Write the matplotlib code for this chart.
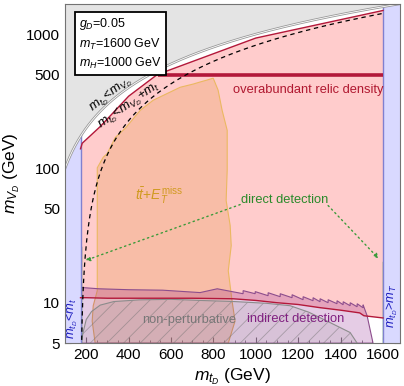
import matplotlib
matplotlib.use("Agg")
import matplotlib.pyplot as plt
import numpy as np
from matplotlib.ticker import FixedLocator, NullFormatter

plt.rcParams["font.family"] = ["Liberation Sans", "DejaVu Sans"]
plt.rcParams["mathtext.fontset"] = "custom"
plt.rcParams["mathtext.rm"] = "Liberation Sans"
plt.rcParams["mathtext.it"] = "Liberation Sans:italic"
plt.rcParams["hatch.linewidth"] = 0.6

# physical constants / plot range
m_t = 173
m_T = 1600
x_lim = (100, 1680)
y_lim = (5, 1680)

# upper relic-density boundary (near m_VD = m_tD)
relic_up_x = [173, 181, 266, 400, 535, 1000, 1600]
relic_up_y = [140, 154, 205, 345, 500, 935, 1500]

# lower relic-density boundary
relic_lo_x = [173, 200, 300, 500, 700, 893, 1000, 1100, 1200, 1300, 1400, 1490, 1510, 1600]
relic_lo_y = [10.9, 10.9, 10.8, 10.8, 10.8, 10.7, 10.4, 10.0, 9.7, 9.2, 8.8, 8.4, 8.0, 7.7]

# resonance line m_VD = m_H / 2
res_x = [538, 1600]
res_y = [500, 500]

# ttbar + MET exclusion outline
tt_x = [242, 228, 233, 252, 252, 280, 299, 337, 384, 455, 516, 643, 705, 737, 770, 799,
        822, 841, 865, 865, 860, 879, 884, 870, 888, 902, 870]
tt_y = [5, 7.3, 9.5, 12.3, 101, 121, 129, 170, 199, 271, 322, 402, 425, 440, 455, 470,
        383, 271, 192, 97, 57.7, 37.6, 26.6, 17.3, 10.3, 7.3, 5]

# indirect detection upper edge (sawtooth)
ind_x = [173, 260, 400, 560, 737, 818, 940, 940, 997, 997, 1058, 1058, 1115, 1115,
         1171, 1171, 1223, 1223, 1270, 1270, 1303, 1303, 1341, 1341, 1383, 1383,
         1412, 1412, 1445, 1445, 1478, 1478, 1506, 1506, 1525, 1553]
ind_y = [13.0, 12.7, 12.5, 12.4, 11.9, 12.7, 11.67, 12.3, 11.67, 12.1, 11.28, 11.87,
         11.09, 11.67, 10.90, 11.47, 10.53, 11.09, 10.35, 10.90, 10.17, 10.71, 10.0,
         10.53, 9.83, 10.35, 9.66, 10.17, 9.5, 10.0, 9.33, 9.83, 9.17, 9.66, 8.0, 5]

# non-perturbative upper edge
np_x = [176, 185, 200, 225, 266, 330, 450, 600, 737, 900, 1050, 1162, 1250, 1336, 1445, 1478]
np_y = [5, 6.0, 7.5, 8.6, 9.6, 10.2, 10.5, 10.6, 10.4, 10.2, 9.9, 9.5, 8.5, 7.3, 6.0, 5]

# direct detection slivers
dd_left_x = [176, 176]
dd_left_y = [5, 26]
dd_right_x = [1598, 1598]
dd_right_y = [5, 20]

x_ticks = [200, 400, 600, 800, 1000, 1200, 1400, 1600]
y_ticks = [5, 10, 50, 100, 500, 1000]

pink = "#ffcccc"
crimson = "#b3183a"
blue_fill = "#d9d9ff"
blue_edge = "#8080d0"
grey_fill = "#e4e4e4"

fig = plt.figure(figsize=(4.04, 3.86), dpi=100)
ax = fig.add_axes([0.161, 0.111, 0.829, 0.879])
ax.set_yscale("log")
ax.set_xlim(*x_lim)
ax.set_ylim(*y_lim)

# overabundant relic density region
ax.fill(relic_up_x + relic_lo_x[::-1], relic_up_y + relic_lo_y[::-1],
        color=pink, lw=0, zorder=1)

# ttbar + MET
ax.fill(tt_x, tt_y, facecolor=(0.9, 0.58, 0.25, 0.26), edgecolor=(0.92, 0.72, 0.38),
        lw=0.8, zorder=2)

# indirect detection
ax.fill(ind_x + [173], ind_y + [5], facecolor=(0.5, 0.0, 0.5, 0.2),
        edgecolor=(0.55, 0.3, 0.55), lw=0.8, zorder=3)

# non-perturbative (hatched)
ax.fill(np_x, np_y, facecolor=(0.5, 0.5, 0.5, 0.12), lw=0, zorder=4)
ax.fill(np_x, np_y, facecolor="none", edgecolor=(0.45, 0.45, 0.45, 0.5),
        hatch="//", lw=0, zorder=4)
ax.plot(np_x, np_y, color=(0.55, 0.55, 0.55), lw=0.8, zorder=4)

# direct detection slivers
ax.plot(dd_left_x, dd_left_y, color="#2a8a2a", lw=1.0, zorder=4)
ax.plot(dd_right_x, dd_right_y, color="#2a8a2a", lw=1.0, zorder=4)

# relic-density lines
ax.plot(relic_up_x, relic_up_y, color=crimson, lw=1.0, zorder=6)
ax.plot(relic_lo_x, relic_lo_y, color=crimson, lw=1.0, zorder=6)
ax.plot(res_x, res_y, color=crimson, lw=2.6, solid_capstyle="butt", zorder=6)

# kinematic boundaries
ax.axvspan(x_lim[0], m_t, color=blue_fill, lw=0, zorder=5)
ax.axvspan(m_T, x_lim[1], color=blue_fill, lw=0, zorder=5)
ax.axvline(m_t, color=blue_edge, lw=1.0, zorder=5)
ax.axvline(m_T, color=blue_edge, lw=1.0, zorder=5)

xx = np.linspace(x_lim[0], x_lim[1], 400)
ax.fill_between(xx, xx, y_lim[1], color=grey_fill, lw=0, zorder=7)
ax.plot(xx, xx, color=(0.6, 0.6, 0.6), lw=1.8, zorder=7)
ax.plot(xx, xx, color="white", lw=0.6, zorder=7)

xd = np.linspace(m_t + 4, m_T, 400)
ax.plot(xd, xd - m_t, color="black", lw=0.9, ls=(0, (3.5, 3)), zorder=6)

# direct detection arrows
for x0, y0, x1, y1 in [(926, 53.8, 195, 20.6), (1341, 52.9, 1580, 21.3)]:
    ax.annotate("", xy=(x1, y1), xytext=(x0, y0),
                arrowprops=dict(arrowstyle="-|>", color="#3a9a3a", lw=1.0,
                                linestyle=(0, (1, 2.5)), mutation_scale=7,
                                shrinkA=0, shrinkB=0),
                zorder=8)

# labels
ax.text(0.042, 0.963, "$g_D$=0.05\n$m_T$=1600 GeV\n$m_H$=1000 GeV",
        transform=ax.transAxes, ha="left", va="top", fontsize=9.0, linespacing=1.4,
        bbox=dict(boxstyle="square,pad=0.32", fc="white", ec="black", lw=1.3), zorder=10)
ax.text(318, 357, "$m_{t_D}$<$m_{V_D}$", rotation=38, fontsize=9.5,
        ha="center", va="center", zorder=9)
ax.text(405, 292, "$m_{t_D}$<$m_{V_D}$+$m_t$", rotation=35, fontsize=9.5,
        ha="center", va="center", zorder=9)
ax.text(1247, 382, "overabundant relic density", color="#b01830", fontsize=9.3,
        ha="center", va="center", zorder=9)
ax.text(545, 63, r"$t\bar{t}$+$E_T^{\rm miss}$", color="#d09a20", fontsize=10,
        ha="center", va="center", zorder=9)
ax.text(1134, 57.7, "direct detection", color="#2a8a2a", fontsize=9.3,
        ha="center", va="center", zorder=9)
ax.text(686, 7.47, "non-perturbative", color="#777777", fontsize=9.3,
        ha="center", va="center", zorder=9)
ax.text(1190, 7.6, "indirect detection", color="#802080", fontsize=9.3,
        ha="center", va="center", zorder=9)
ax.text(133, 7.6, "$m_{t_D}$<$m_t$", color="#2020c0", fontsize=9.3, rotation=90,
        ha="center", va="center", zorder=9)
ax.text(1643, 9.5, "$m_{t_D}$>$m_T$", color="#2020c0", fontsize=9.3, rotation=90,
        ha="center", va="center", zorder=9)

ax.set_xlabel("$m_{t_D}$ (GeV)", fontsize=12.5, labelpad=3)
ax.set_ylabel("$m_{V_D}$ (GeV)", fontsize=12.5, labelpad=3)

ax.xaxis.set_major_locator(FixedLocator(x_ticks))
ax.xaxis.set_minor_locator(FixedLocator(np.arange(100, 1700, 50)))
ax.yaxis.set_major_locator(FixedLocator(y_ticks))
minor_y = [v for d in (1, 10, 100, 1000) for v in np.arange(2, 10) * d
           if 5 <= v <= 1680 and v not in y_ticks]
ax.yaxis.set_minor_locator(FixedLocator(minor_y))
ax.yaxis.set_minor_formatter(NullFormatter())
ax.set_yticklabels([str(v) for v in y_ticks])
ax.tick_params(which="both", direction="in", top=True, right=True,
               labelsize=11, color=(0.45, 0.45, 0.45), zorder=11)
ax.tick_params(which="major", length=4, width=0.8)
ax.tick_params(which="minor", length=2.2, width=0.6)
for s in ax.spines.values():
    s.set_color((0.45, 0.45, 0.45))
    s.set_linewidth(0.8)
    s.set_zorder(12)

fig.savefig("out.png", dpi=100)
